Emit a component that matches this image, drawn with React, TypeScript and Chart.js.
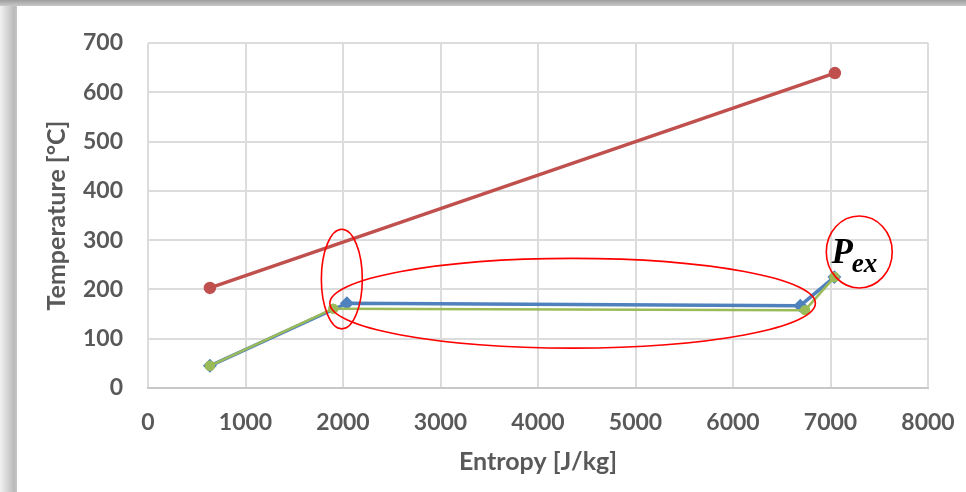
import React, { useEffect, useRef } from "react";
import { Chart, registerables } from "chart.js";

Chart.register(...registerables);

// ---- data ----
const blueEntropy = [635, 2040, 6690, 7040];
const blueTemp = [45, 172, 167, 225];

const greenEntropy = [635, 1900, 6740, 7040];
const greenTemp = [45, 161, 158, 225];

const redEntropy = [635, 7045];
const redTemp = [203, 639];

const xTickValues = [0, 1000, 2000, 3000, 4000, 5000, 6000, 7000, 8000];
const yTickValues = [0, 100, 200, 300, 400, 500, 600, 700];

const xTitle = "Entropy [J/kg]";
const yTitle = "Temperature [°C]";

// annotation ellipses, in data units: centre entropy, centre temp, radius entropy, radius temp
const ellipseCentersX = [1988, 4355, 7295];
const ellipseCentersY = [221, 172, 276];
const ellipseRadiiX = [210, 2490, 338];
const ellipseRadiiY = [101, 91, 73];

const labelMain = "P";
const labelSub = "ex";
const labelAtX = [7010];
const labelAtY = [254];

const toPoints = (xs: number[], ys: number[]) => xs.map((x, i) => ({ x, y: ys[i] }));

const TEXT = "#595959";
const FONT = "Lato, 'Open Sans', 'Liberation Sans', sans-serif";

const framePlugin = {
  id: "frame",
  beforeDraw(chart: any) {
    const { ctx, width, height } = chart;
    ctx.save();
    ctx.fillStyle = "#ffffff";
    ctx.fillRect(0, 0, width, height);
    const gl = ctx.createLinearGradient(0, 0, 17, 0);
    gl.addColorStop(0, "#f2f2f2");
    gl.addColorStop(0.85, "#b9b9b9");
    gl.addColorStop(1, "#c8c8c8");
    ctx.fillStyle = gl;
    ctx.fillRect(0, 0, 17, height);
    const gt = ctx.createLinearGradient(0, 0, 0, 7);
    gt.addColorStop(0, "#9e9e9e");
    gt.addColorStop(1, "#cfcfcf");
    ctx.fillStyle = gt;
    ctx.fillRect(0, 0, width, 6);
    ctx.restore();
  },
};

const annotationPlugin = {
  id: "annot",
  afterDatasetsDraw(chart: any) {
    const { ctx, scales } = chart;
    const xs = scales.x;
    const ys = scales.y;
    ctx.save();
    ctx.strokeStyle = "#ff0000";
    ctx.lineWidth = 1.6;
    ellipseCentersX.forEach((cxv, i) => {
      const cx = xs.getPixelForValue(cxv);
      const cy = ys.getPixelForValue(ellipseCentersY[i]);
      const rx = Math.abs(xs.getPixelForValue(cxv + ellipseRadiiX[i]) - cx);
      const ry = Math.abs(ys.getPixelForValue(ellipseCentersY[i] + ellipseRadiiY[i]) - cy);
      ctx.beginPath();
      ctx.ellipse(cx, cy, rx, ry, 0, 0, Math.PI * 2);
      ctx.stroke();
    });
    const px = xs.getPixelForValue(labelAtX[0]);
    const py = ys.getPixelForValue(labelAtY[0]);
    ctx.fillStyle = "#000000";
    ctx.textBaseline = "alphabetic";
    ctx.textAlign = "left";
    ctx.font = "bold italic 35px 'Liberation Serif', 'DejaVu Serif', serif";
    ctx.fillText(labelMain, px, py);
    const w = ctx.measureText(labelMain).width;
    ctx.font = "bold italic 27px 'Liberation Serif', 'DejaVu Serif', serif";
    ctx.fillText(labelSub, px + w - 1, py + 9);
    ctx.restore();
  },
};

export default function App() {
  const ref = useRef<HTMLCanvasElement | null>(null);

  useEffect(() => {
    if (!ref.current) return;
    const chart = new Chart(ref.current, {
      type: "scatter",
      data: {
        datasets: [
          {
            label: "Green",
            data: toPoints(greenEntropy, greenTemp),
            showLine: true,
            borderColor: "#9BBB59",
            backgroundColor: "#9BBB59",
            borderWidth: 2.5,
            pointRadius: 4,
            pointStyle: "circle",
            order: 0,
          },
          {
            label: "Blue",
            data: toPoints(blueEntropy, blueTemp),
            showLine: true,
            borderColor: "#4F81BD",
            backgroundColor: "#4F81BD",
            borderWidth: 3.5,
            pointRadius: 4.5,
            pointStyle: "rectRot",
            order: 1,
          },
          {
            label: "Red",
            data: toPoints(redEntropy, redTemp),
            showLine: true,
            borderColor: "#C0504D",
            backgroundColor: "#C0504D",
            borderWidth: 3.5,
            pointRadius: 4.5,
            pointStyle: "circle",
            order: 2,
          },
        ],
      },
      options: {
        responsive: false,
        animation: false,
        devicePixelRatio: 1,
        layout: { padding: { top: 43, right: 38, left: 0, bottom: 0 } },
        plugins: {
          legend: { display: false },
          tooltip: { enabled: false },
        },
        elements: { line: { tension: 0, borderCapStyle: "round", borderJoinStyle: "round" } },
        scales: {
          x: {
            type: "linear",
            min: 0,
            max: 8000,
            afterBuildTicks: (s: any) => {
              s.ticks = xTickValues.map((v) => ({ value: v }));
            },
            afterFit: (s: any) => {
              s.height = 104;
              s.paddingLeft = 0;
              s.paddingRight = 0;
            },
            ticks: {
              color: TEXT,
              font: { family: FONT, size: 23, weight: "bold" },
              padding: 21,
              maxRotation: 0,
              autoSkip: false,
              callback: (v: any) => String(v),
            },
            grid: { color: "#dcdcdc", lineWidth: 2, drawTicks: false },
            border: { color: "#c8c8c8", width: 2 },
            title: {
              display: true,
              text: xTitle,
              color: TEXT,
              font: { family: FONT, size: 25, weight: "bold" },
              padding: { top: 0, bottom: 15 },
            },
          },
          y: {
            type: "linear",
            min: 0,
            max: 700,
            afterBuildTicks: (s: any) => {
              s.ticks = yTickValues.map((v) => ({ value: v }));
            },
            afterFit: (s: any) => {
              s.width = 148;
              s.paddingTop = 0;
              s.paddingBottom = 0;
            },
            ticks: {
              color: TEXT,
              font: { family: FONT, size: 23, weight: "bold" },
              padding: 25,
              autoSkip: false,
              callback: (v: any) => String(v),
            },
            grid: { color: "#dcdcdc", lineWidth: 2, drawTicks: false },
            border: { display: false },
            title: {
              display: true,
              text: yTitle,
              color: TEXT,
              font: { family: FONT, size: 25, weight: "bold" },
              padding: { top: 42, bottom: 0 },
            },
          },
        },
      },
      plugins: [framePlugin, annotationPlugin],
    });
    return () => chart.destroy();
  }, []);

  return (
    <div style={{ position: "absolute", left: 0, top: 0, width: 966, height: 492 }}>
      <canvas ref={ref} width={966} height={492} style={{ display: "block", width: 966, height: 492 }} />
    </div>
  );
}
